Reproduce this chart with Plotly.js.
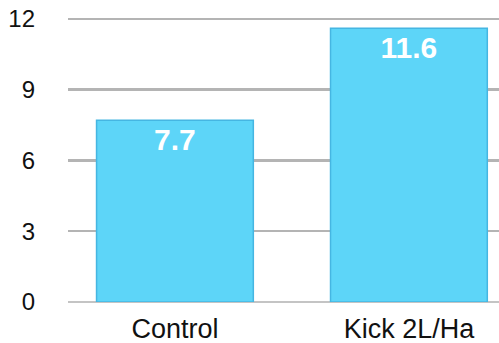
<!DOCTYPE html>
<html>
<head>
<meta charset="utf-8">
<script src="https://cdn.plot.ly/plotly-3.0.1.min.js"></script>
<style>html,body{margin:0;padding:0;background:#fff;}#chart{width:499px;height:343px;}</style>
</head>
<body>
<div id="chart"></div>
<script>
const categories = ["Control", "Kick 2L/Ha"];
const values = [7.7, 11.6];
const yTicks = [0, 3, 6, 9, 12];

const trace = {
  type: 'bar',
  x: categories,
  y: values,
  width: 0.67,
  marker: {color: '#5DD5F8', line: {color: '#45B6E2', width: 1.5}},
  text: values.map(v => v.toFixed(1)),
  textposition: 'inside',
  insidetextanchor: 'end',
  textangle: 0,
  textfont: {family: 'Liberation Sans, Arial, sans-serif', size: 30, color: '#ffffff', weight: 'bold'},
  cliponaxis: false,
  hoverinfo: 'none'
};

const layout = {
  width: 499, height: 343,
  margin: {l: 68, r: 0, t: 17, b: 41, pad: 0},
  paper_bgcolor: '#ffffff', plot_bgcolor: '#ffffff',
  showlegend: false,
  font: {family: 'Liberation Sans, Arial, sans-serif', color: '#111111'},
  xaxis: {
    range: [-0.457, 1.385],
    showgrid: false, zeroline: false, showline: false,
    ticks: '', ticklabelstandoff: 8,
    tickfont: {size: 27, color: '#111111'},
    fixedrange: true
  },
  yaxis: {
    range: [0, 12.08],
    tickvals: yTicks,
    ticktext: yTicks.map(String),
    showgrid: true, gridcolor: '#b4b4b4', gridwidth: 2.5,
    zeroline: true, zerolinecolor: '#c4c4c4', zerolinewidth: 2.5,
    showline: false,
    ticks: '', ticklabelstandoff: 32,
    tickfont: {size: 24, color: '#111111'},
    fixedrange: true
  }
};

Plotly.newPlot('chart', [trace], layout, {displayModeBar: false, staticPlot: true});
</script>
</body>
</html>
